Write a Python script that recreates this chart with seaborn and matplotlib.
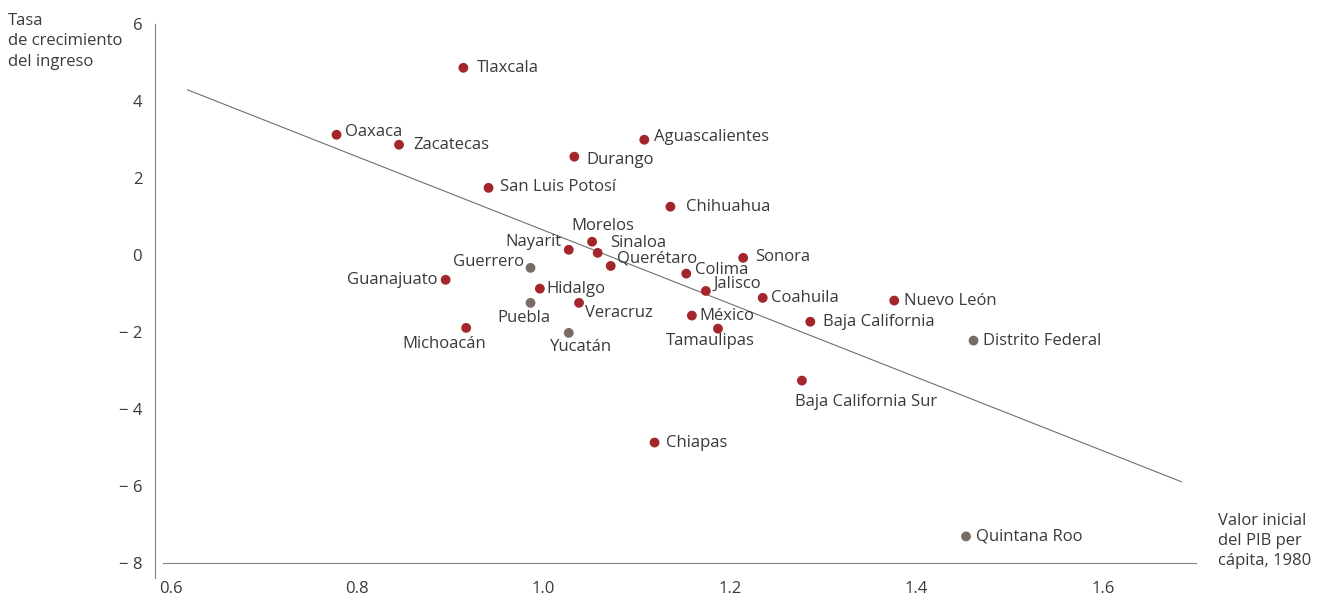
import numpy as np
import pandas as pd
import matplotlib.pyplot as plt
import seaborn as sns

# datos
estados = ['Tlaxcala', 'Oaxaca', 'Zacatecas', 'Durango', 'Aguascalientes',
           'San Luis Potosí', 'Chihuahua', 'Morelos', 'Nayarit', 'Sinaloa',
           'Querétaro', 'Guerrero', 'Guanajuato', 'Sonora', 'Colima',
           'Jalisco', 'Coahuila', 'Nuevo León', 'Hidalgo', 'Puebla',
           'Veracruz', 'México', 'Tamaulipas', 'Baja California', 'Michoacán',
           'Yucatán', 'Distrito Federal', 'Baja California Sur', 'Chiapas',
           'Quintana Roo']
pib_1980 = [0.914, 0.778, 0.845, 1.033, 1.108,
            0.941, 1.136, 1.052, 1.027, 1.058,
            1.072, 0.986, 0.895, 1.214, 1.153,
            1.174, 1.235, 1.376, 0.996, 0.986,
            1.038, 1.159, 1.187, 1.286, 0.917,
            1.027, 1.461, 1.277, 1.119, 1.453]
crecimiento = [4.86, 3.12, 2.86, 2.55, 2.99,
               1.74, 1.25, 0.34, 0.13, 0.05,
               -0.29, -0.34, -0.65, -0.08, -0.49,
               -0.94, -1.12, -1.19, -0.88, -1.25,
               -1.25, -1.58, -1.92, -1.74, -1.90,
               -2.03, -2.23, -3.27, -4.88, -7.32]
grupo = ['a'] * 30
for i in [11, 19, 25, 26, 29]:
    grupo[i] = 'b'

# recta de tendencia (extremos leidos)
recta_x = [0.618, 1.684]
recta_y = [4.29, -5.90]

x_ticks = [0.6, 0.8, 1.0, 1.2, 1.4, 1.6]
y_ticks = [-8, -6, -4, -2, 0, 2, 4, 6]
y_labels = ['− 8', '− 6', '− 4', '− 2', '0', '2', '4', '6']

df = pd.DataFrame({'estado': estados, 'pib': pib_1980,
                   'crec': crecimiento, 'grupo': grupo})

sns.set_style('white')
plt.rcParams['font.family'] = ['Open Sans', 'DejaVu Sans']
texto = '#3a3a3a'
fs = 12

fig = plt.figure(figsize=(13.22, 6.03), dpi=100)
ax = fig.add_axes([0.117, 0.0415, 0.788, 0.922])

ax.plot(recta_x, recta_y, color='#707070', lw=0.8, zorder=1)
sns.scatterplot(data=df, x='pib', y='crec', hue='grupo',
                palette={'a': '#a3262b', 'b': '#7a6c64'},
                s=50, edgecolor='none', legend=False, ax=ax, zorder=3)

# desplazamiento de etiquetas (pixeles) y alineacion
offsets = {
    'Tlaxcala': (14, 0, 'left'), 'Oaxaca': (8, 3, 'left'),
    'Zacatecas': (14, 0, 'left'), 'Durango': (12, -3, 'left'),
    'Aguascalientes': (10, 3, 'left'), 'San Luis Potosí': (11, 1, 'left'),
    'Chihuahua': (16, 0, 'left'), 'Morelos': (11, 16, 'center'),
    'Nayarit': (-7, 8, 'right'), 'Sinaloa': (12, 10, 'left'),
    'Querétaro': (6, 7, 'left'), 'Guerrero': (-7, 6, 'right'),
    'Guanajuato': (-8, 0, 'right'), 'Sonora': (12, 1, 'left'),
    'Colima': (9, 4, 'left'), 'Jalisco': (8, 7, 'left'),
    'Coahuila': (8, 0, 'left'), 'Nuevo León': (10, 0, 'left'),
    'Hidalgo': (7, 0, 'left'), 'Puebla': (-7, -15, 'center'),
    'Veracruz': (6, -10, 'left'), 'México': (8, 0, 'left'),
    'Tamaulipas': (-8, -12, 'center'), 'Baja California': (13, 0, 'left'),
    'Michoacán': (-22, -16, 'center'), 'Yucatán': (12, -14, 'center'),
    'Distrito Federal': (9, 0, 'left'), 'Baja California Sur': (-7, -21, 'left'),
    'Chiapas': (11, 0, 'left'), 'Quintana Roo': (10, 0, 'left'),
}
for _, r in df.iterrows():
    dx, dy, ha = offsets[r['estado']]
    ax.annotate(r['estado'], (r['pib'], r['crec']), xytext=(dx, dy),
                textcoords='offset pixels', ha=ha, va='center',
                fontsize=fs, color=texto, zorder=4)

ax.set_xlim(0.583, 1.70)
ax.set_ylim(-8.4, 6.05)
ax.set_xticks(x_ticks)
ax.set_xticklabels([f'{v:.1f}' for v in x_ticks])
ax.set_yticks(y_ticks)
ax.set_yticklabels(y_labels)
ax.spines['top'].set_visible(False)
ax.spines['right'].set_visible(False)
ax.spines['bottom'].set_position(('data', -8))
ax.spines['bottom'].set_bounds(0.592, 1.70)
ax.spines['left'].set_bounds(-8.4, 6)
for s in ['bottom', 'left']:
    ax.spines[s].set_color('#808080')
    ax.spines[s].set_linewidth(0.8)
ax.tick_params(axis='both', direction='out', length=4, width=0.8,
               color='#808080', labelsize=fs, labelcolor=texto, pad=9)
ax.tick_params(axis='y', pad=5)
ax.set_xlabel('')
ax.set_ylabel('')

fig.text(0.006, 0.978, 'Tasa\nde crecimiento\ndel ingreso', ha='left', va='top',
         fontsize=fs, color=texto, linespacing=1.35)
fig.text(0.921, 0.15, 'Valor inicial\ndel PIB per\ncápita, 1980', ha='left', va='top',
         fontsize=fs, color=texto, linespacing=1.35)

fig.savefig('out.png', dpi=100, facecolor='white')
